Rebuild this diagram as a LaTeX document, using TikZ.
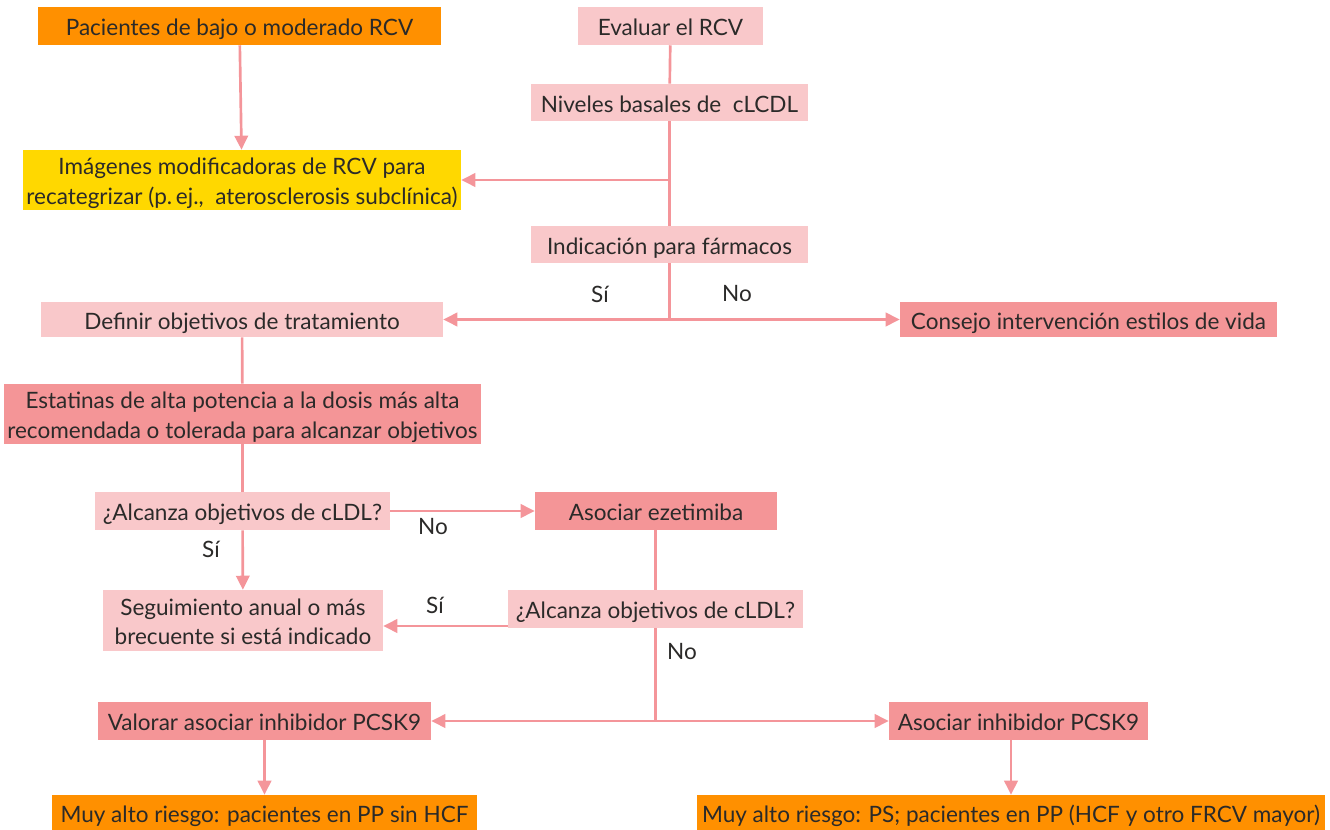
\documentclass[tikz,border=0pt]{standalone}
\usepackage{fontspec}
\setmainfont{Lato}
\usetikzlibrary{arrows.meta}
\definecolor{orng}{HTML}{FF9000}
\definecolor{yell}{HTML}{FFD800}
\definecolor{lpink}{HTML}{F9C8CA}
\definecolor{mpink}{HTML}{F49597}
\definecolor{lnc}{HTML}{F4959A}
\definecolor{txt}{HTML}{2B2A29}
\newcommand{\bxt}[1]{\raisebox{-2.8pt}[\height][\depth]{\begin{tabular}{@{}c@{}}#1\end{tabular}}}
\tikzset{
  box/.style={inner sep=0pt, text=txt, font=\fontsize{16.9}{22}\selectfont},
  wh/.style 2 args={minimum width=#1*0.75pt, minimum height=#2*0.75pt},
  org/.style={box, fill=orng},
  yel/.style={box, fill=yell},
  lp/.style={box, fill=lpink},
  mp/.style={box, fill=mpink},
  ln/.style={draw=lnc, line width=2pt},
  arr/.style={ln, -{Triangle[length=10.5pt, width=10pt]}},
  lab/.style={text=txt, font=\fontsize{16.9}{18}\selectfont, inner sep=0pt}
}
\begin{document}
\begin{tikzpicture}[x=0.75pt, y=-0.75pt]
\useasboundingbox (0,0) rectangle (1330,830);
% nodes
\node[org, wh={403}{38}] (pac) at (239.5,26) {\bxt{Pacientes de bajo o moderado RCV}};
\node[lp, wh={185}{38}] (eva) at (670.5,26) {\bxt{Evaluar el RCV}};
\node[lp, wh={277}{37}] (niv) at (669.5,102.5) {\bxt{Niveles basales de\ \ cLCDL}};
\node[yel, wh={438}{60}] (img) at (242,180) {\bxt{Imágenes modificadoras de RCV para\\recategrizar (p.\,ej.,\ \ aterosclerosis subclínica)}};
\node[lp, wh={277}{37}] (ind) at (669.5,244.5) {\bxt{Indicación para fármacos}};
\node[lp, wh={402}{35}] (def) at (242,319.5) {\bxt{Definir objetivos de tratamiento}};
\node[mp, wh={377}{35}] (con) at (1088.5,319.5) {\bxt{Consejo intervención estilos de vida}};
\node[mp, wh={477}{60}] (est) at (242.5,414) {\bxt{Estatinas de alta potencia a la dosis más alta\\recomendada o tolerada para alcanzar objetivos}};
\node[lp, wh={295}{38}] (alc1) at (242.5,511) {\bxt{¿Alcanza objetivos de cLDL?}};
\node[mp, wh={242}{38}] (eze) at (656,511) {\bxt{Asociar ezetimiba}};
\node[lp, wh={280}{61}] (seg) at (243,620.5) {\bxt{Seguimiento anual o más\\brecuente si está indicado}};
\node[lp, wh={295}{38}] (alc2) at (655.5,609) {\bxt{¿Alcanza objetivos de cLDL?}};
\node[mp, wh={333}{38}] (val) at (264.5,721) {\bxt{Valorar asociar inhibidor PCSK9}};
\node[mp, wh={259}{38}] (pcsk) at (1018.5,721) {\bxt{Asociar inhibidor PCSK9}};
\node[org, wh={425}{35}] (muy1) at (264.5,812.5) {\bxt{Muy alto riesgo: pacientes en PP sin HCF}};
\node[org, wh={628}{35}] (muy2) at (1011,812.5) {\bxt{Muy alto riesgo: PS; pacientes en PP (HCF y otro FRCV mayor)}};
% labels
\node[lab] (si1) at (600,294) {Sí};
\node[lab] (no1) at (737,294) {No};
\node[lab] (si2) at (211,549) {Sí};
\node[lab] (no2) at (433,527) {No};
\node[lab] (si3) at (435,605) {Sí};
\node[lab] (no3) at (682,652) {No};
% connectors
\draw[arr] (pac) -- (img);
\draw[ln] (eva) -- (niv);
\draw[ln] (niv) -- (ind);
\coordinate (j0) at (niv.south |- img.east);
\draw[arr] (j0) -- (img.east);
\coordinate (j1) at (ind.south |- def.east);
\draw[ln] (ind.south) -- (j1);
\draw[arr] (j1) -- (def.east);
\draw[arr] (j1) -- (con.west);
\draw[ln] (def) -- (est);
\draw[ln] (est) -- (alc1);
\draw[arr] (alc1) -- (seg);
\draw[arr] (alc1.east) -- (eze.west);
\draw[ln] (eze.south -| alc2.north) -- (alc2.north);
\coordinate (a2s) at ([yshift=-12.75pt]alc2.west);
\draw[arr] (a2s) -- (a2s -| seg.east);
\coordinate (j2) at (alc2.south |- val.east);
\draw[ln] (alc2.south) -- (j2);
\draw[arr] (j2) -- (val.east);
\draw[arr] (j2) -- (pcsk.west);
\draw[arr] (val) -- (muy1);
\draw[arr] (pcsk.south -| muy2.north) -- (muy2.north);
\end{tikzpicture}
\end{document}
